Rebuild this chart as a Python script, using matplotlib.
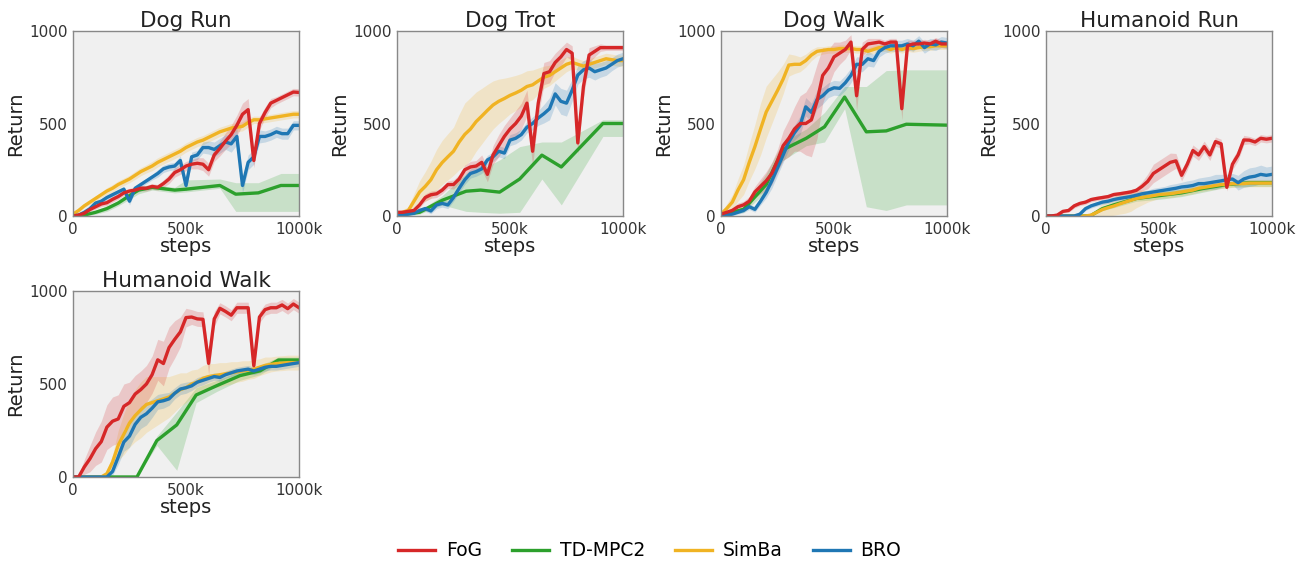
import numpy as np
import matplotlib
matplotlib.use("Agg")
import matplotlib.pyplot as plt

# evaluation grid (thousands of env steps) shared by FoG / SimBa / BRO curves
steps_k = list(range(0, 1001, 25))

methods = ["FoG", "TD-MPC2", "SimBa", "BRO"]
colors = {"FoG": "#d62728", "TD-MPC2": "#2ca02c", "SimBa": "#f0b323", "BRO": "#1f77b4"}

# ---- Dog Run ----
dog_run_fog = [0, 5, 15, 35, 50, 65, 72, 90, 105, 125, 135, 140, 150, 150, 160, 155, 175, 200, 235, 250, 270,
               280, 285, 280, 250, 330, 365, 405, 440, 490, 550, 575, 300, 500, 560, 610, 625, 640, 655, 670, 668]
dog_run_fog_sd = [2, 5, 8, 10, 12, 14, 15, 15, 15, 15, 15, 15, 15, 15, 15, 15, 20, 25, 25, 25, 25,
                  25, 30, 35, 35, 35, 40, 45, 50, 55, 60, 60, 40, 35, 30, 25, 20, 20, 20, 20, 20]
dog_run_bro = [0, 5, 20, 40, 70, 80, 100, 115, 130, 145, 80, 150, 170, 190, 210, 230, 255, 265, 270, 300, 165,
               320, 330, 370, 370, 360, 380, 400, 390, 430, 165, 290, 320, 430, 430, 440, 455, 445, 445, 490, 490]
dog_run_bro_sd = [2, 5, 8, 10, 12, 14, 15, 15, 15, 15, 20, 15, 15, 15, 15, 20, 20, 20, 20, 25, 30,
                  25, 25, 30, 35, 40, 40, 40, 45, 45, 40, 40, 40, 35, 30, 30, 30, 30, 30, 25, 25]
dog_run_simba = [10, 30, 55, 75, 95, 115, 135, 150, 170, 185, 200, 220, 240, 255, 270, 290, 305, 320, 335, 350, 370,
                 385, 400, 410, 425, 440, 455, 465, 475, 480, 485, 505, 520, 520, 525, 530, 535, 540, 545, 550, 550]
dog_run_simba_sd = [5, 8, 10, 12, 15, 15, 18, 20, 20, 20, 20, 22, 22, 22, 25, 25, 25, 25, 25, 25, 25,
                    25, 25, 25, 25, 25, 25, 25, 25, 25, 25, 25, 20, 20, 20, 20, 20, 20, 20, 20, 20]
dog_run_td_x = [0, 50, 100, 150, 200, 250, 290, 350, 450, 500, 650, 720, 820, 920, 1000]
dog_run_td = [0, 5, 20, 40, 70, 110, 140, 155, 140, 145, 165, 118, 125, 165, 165]
dog_run_td_lo = [0, 0, 10, 25, 55, 90, 120, 140, 125, 130, 150, 25, 25, 25, 25]
dog_run_td_hi = [0, 10, 30, 55, 85, 130, 160, 170, 155, 195, 200, 180, 180, 230, 230]

# ---- Dog Trot ----
dog_trot_fog = [20, 20, 25, 30, 60, 100, 115, 120, 140, 170, 170, 200, 250, 265, 270, 290, 225, 330, 380, 430, 470,
                500, 540, 610, 350, 610, 770, 780, 830, 860, 900, 880, 395, 700, 870, 890, 910, 910, 910, 910, 910]
dog_trot_fog_sd = [10, 10, 10, 10, 15, 20, 20, 20, 20, 20, 25, 25, 25, 30, 30, 40, 40, 50, 60, 60, 60,
                   70, 70, 70, 80, 70, 60, 60, 50, 50, 40, 40, 60, 60, 40, 30, 20, 15, 15, 15, 15]
dog_trot_bro = [5, 5, 10, 15, 30, 40, 27, 60, 68, 60, 100, 150, 196, 230, 240, 255, 303, 320, 350, 340, 410,
                420, 440, 480, 500, 530, 553, 580, 660, 620, 610, 680, 762, 790, 800, 780, 790, 800, 820, 840, 850]
dog_trot_bro_sd = [5, 5, 8, 10, 12, 15, 15, 20, 20, 20, 20, 25, 25, 25, 25, 25, 25, 25, 30, 30, 30,
                   30, 30, 30, 35, 40, 50, 60, 60, 70, 70, 60, 50, 50, 50, 45, 40, 40, 35, 35, 35]
dog_trot_simba = [10, 20, 30, 80, 130, 160, 196, 250, 289, 320, 350, 400, 441, 470, 510, 540, 571, 600, 620, 635, 652,
                  665, 680, 700, 709, 730, 750, 760, 780, 800, 820, 830, 820, 810, 820, 830, 840, 850, 845, 840, 840]
dog_trot_simba_sd = [10, 15, 20, 40, 60, 80, 100, 110, 120, 125, 130, 150, 170, 170, 160, 150, 140, 130, 120, 110, 100,
                     95, 90, 85, 80, 70, 60, 55, 50, 45, 40, 35, 30, 30, 30, 30, 30, 30, 30, 30, 30]
dog_trot_td_x = [0, 100, 200, 306, 370, 454, 543, 641, 727, 911, 1000]
dog_trot_td = [5, 20, 85, 134, 140, 129, 200, 329, 265, 500, 500]
dog_trot_td_lo = [0, 10, 60, 25, 20, 15, 20, 200, 60, 430, 430]
dog_trot_td_hi = [10, 30, 110, 230, 250, 303, 375, 400, 400, 520, 520]

# ---- Dog Walk ----
dog_walk_fog = [10, 20, 30, 50, 60, 80, 130, 160, 190, 230, 300, 380, 420, 470, 500, 500, 520, 620, 760, 800, 860,
                880, 900, 940, 650, 900, 930, 935, 940, 930, 940, 940, 580, 920, 930, 930, 935, 930, 945, 930, 930]
dog_walk_fog_sd = [10, 10, 15, 20, 20, 25, 30, 40, 50, 60, 60, 80, 100, 120, 150, 170, 200, 200, 150, 100, 80,
                   60, 50, 40, 80, 40, 30, 25, 20, 20, 20, 20, 60, 30, 20, 20, 20, 20, 20, 20, 20]
dog_walk_bro = [5, 5, 10, 20, 30, 50, 36, 80, 128, 190, 260, 330, 400, 450, 490, 590, 560, 630, 650, 680, 693,
                690, 720, 760, 820, 820, 850, 840, 890, 910, 920, 920, 920, 930, 920, 945, 910, 930, 925, 940, 935]
dog_walk_bro_sd = [5, 5, 8, 10, 12, 15, 15, 20, 30, 40, 40, 40, 40, 40, 50, 50, 50, 50, 45, 40, 40,
                   40, 40, 40, 40, 40, 40, 35, 30, 30, 30, 30, 30, 30, 30, 30, 30, 30, 30, 30, 30]
dog_walk_simba = [10, 40, 75, 140, 196, 290, 375, 470, 562, 620, 678, 740, 816, 820, 820, 840, 870, 890, 895, 900, 900,
                  905, 905, 905, 900, 900, 890, 900, 910, 910, 900, 910, 900, 910, 905, 910, 915, 915, 920, 920, 920]
dog_walk_simba_sd = [10, 25, 40, 60, 80, 100, 120, 140, 140, 120, 100, 80, 60, 50, 40, 35, 30, 25, 20, 20, 20,
                     20, 20, 20, 20, 20, 20, 20, 20, 20, 20, 20, 20, 20, 20, 20, 20, 20, 20, 20, 20]
dog_walk_td_x = [0, 100, 200, 273, 377, 458, 547, 643, 731, 820, 1000]
dog_walk_td = [5, 36, 170, 357, 420, 482, 643, 455, 460, 496, 491]
dog_walk_td_lo = [0, 20, 130, 300, 380, 400, 580, 50, 30, 60, 60]
dog_walk_td_hi = [10, 50, 230, 400, 470, 560, 700, 700, 786, 790, 790]

# ---- Humanoid Run ----
hum_run_fog = [0, 0, 5, 25, 30, 55, 68, 75, 89, 95, 100, 105, 116, 120, 125, 130, 139, 160, 187, 230, 250,
               270, 290, 298, 220, 280, 354, 330, 375, 330, 402, 390, 155, 280, 330, 411, 410, 400, 420, 415, 420]
hum_run_fog_sd = [0, 0, 5, 8, 10, 12, 12, 12, 12, 12, 12, 12, 12, 12, 12, 12, 15, 25, 40, 50, 50,
                  50, 50, 40, 30, 30, 30, 30, 30, 30, 25, 25, 20, 30, 30, 25, 20, 20, 20, 20, 20]
hum_run_bro = [0, 0, 0, 0, 0, 0, 10, 40, 55, 65, 75, 80, 89, 95, 100, 105, 112, 120, 125, 130, 135,
               140, 145, 150, 157, 160, 165, 175, 175, 180, 185, 190, 196, 200, 180, 200, 210, 215, 225, 220, 225]
hum_run_bro_sd = [0, 0, 0, 0, 0, 0, 5, 10, 12, 12, 12, 12, 12, 12, 12, 15, 15, 15, 15, 20, 20,
                  20, 25, 25, 25, 30, 30, 30, 35, 35, 40, 35, 30, 30, 40, 45, 50, 50, 50, 45, 45]
hum_run_simba = [0, 0, 0, 0, 0, 0, 0, 0, 5, 20, 35, 45, 54, 65, 75, 85, 95, 100, 105, 110, 116,
                 118, 120, 125, 130, 135, 140, 150, 155, 160, 165, 170, 170, 175, 175, 175, 178, 178, 178, 178, 178]
hum_run_simba_sd = [0, 0, 0, 0, 0, 0, 0, 0, 5, 20, 35, 45, 50, 55, 60, 60, 50, 40, 30, 25, 20,
                    20, 20, 20, 20, 20, 20, 20, 20, 20, 20, 20, 20, 20, 20, 20, 20, 20, 20, 20, 20]
hum_run_td_x = [0, 195, 250, 300, 400, 500, 600, 700, 800, 900, 1000]
hum_run_td = [0, 0, 40, 60, 95, 110, 125, 150, 170, 180, 180]
hum_run_td_lo = [0, 0, 30, 45, 80, 90, 105, 130, 155, 160, 160]
hum_run_td_hi = [0, 0, 50, 75, 110, 130, 145, 165, 185, 195, 195]

# ---- Humanoid Walk ----
hum_walk_fog = [0, 0, 54, 98, 152, 190, 268, 300, 312, 380, 400, 446, 470, 500, 550, 630, 610, 696, 740, 780, 857,
                860, 850, 848, 611, 850, 907, 890, 870, 910, 910, 910, 598, 860, 900, 910, 910, 925, 905, 930, 910]
hum_walk_fog_sd = [0, 10, 40, 70, 90, 110, 120, 130, 130, 120, 110, 100, 100, 100, 100, 110, 120, 110, 100, 80, 50,
                   40, 40, 40, 60, 40, 30, 30, 30, 30, 30, 30, 40, 30, 30, 30, 30, 30, 30, 30, 30]
hum_walk_bro = [0, 0, 0, 0, 0, 0, 0, 30, 107, 188, 220, 283, 321, 340, 370, 404, 410, 420, 450, 473, 480,
                490, 510, 520, 530, 540, 535, 550, 560, 570, 575, 580, 570, 580, 590, 595, 595, 600, 605, 610, 615]
hum_walk_bro_sd = [0, 0, 0, 0, 0, 0, 0, 20, 40, 50, 60, 60, 60, 60, 50, 40, 40, 35, 30, 30, 30,
                   25, 25, 25, 20, 20, 20, 20, 20, 20, 20, 20, 20, 20, 20, 20, 20, 20, 20, 20, 20]
hum_walk_simba = [0, 0, 0, 0, 0, 0, 18, 80, 170, 230, 290, 330, 361, 390, 400, 410, 420, 430, 450, 470, 480,
                  500, 510, 530, 540, 545, 550, 555, 560, 565, 570, 575, 580, 590, 600, 605, 610, 612, 615, 615, 615]
hum_walk_simba_sd = [0, 0, 0, 0, 0, 0, 15, 40, 80, 110, 130, 140, 150, 150, 140, 130, 120, 110, 100, 90, 80,
                     75, 70, 70, 70, 65, 65, 60, 60, 55, 55, 50, 50, 45, 45, 40, 40, 40, 40, 40, 40]
hum_walk_td_x = [0, 283, 371, 459, 545, 636, 739, 828, 909, 1000]
hum_walk_td = [0, 0, 196, 280, 441, 491, 545, 571, 629, 629]
hum_walk_td_lo = [0, 0, 170, 36, 400, 460, 520, 550, 610, 610]
hum_walk_td_hi = [0, 0, 220, 350, 480, 520, 570, 600, 645, 645]

tasks = [
    ("Dog Run", dog_run_fog, dog_run_fog_sd, dog_run_bro, dog_run_bro_sd, dog_run_simba, dog_run_simba_sd,
     dog_run_td_x, dog_run_td, dog_run_td_lo, dog_run_td_hi),
    ("Dog Trot", dog_trot_fog, dog_trot_fog_sd, dog_trot_bro, dog_trot_bro_sd, dog_trot_simba, dog_trot_simba_sd,
     dog_trot_td_x, dog_trot_td, dog_trot_td_lo, dog_trot_td_hi),
    ("Dog Walk", dog_walk_fog, dog_walk_fog_sd, dog_walk_bro, dog_walk_bro_sd, dog_walk_simba, dog_walk_simba_sd,
     dog_walk_td_x, dog_walk_td, dog_walk_td_lo, dog_walk_td_hi),
    ("Humanoid Run", hum_run_fog, hum_run_fog_sd, hum_run_bro, hum_run_bro_sd, hum_run_simba, hum_run_simba_sd,
     hum_run_td_x, hum_run_td, hum_run_td_lo, hum_run_td_hi),
    ("Humanoid Walk", hum_walk_fog, hum_walk_fog_sd, hum_walk_bro, hum_walk_bro_sd, hum_walk_simba, hum_walk_simba_sd,
     hum_walk_td_x, hum_walk_td, hum_walk_td_lo, hum_walk_td_hi),
]

W, H = 1307, 565
fig = plt.figure(figsize=(W / 100, H / 100), dpi=100)

# axes boxes in pixels: (left, top, bottom)
lefts = [73, 397, 721, 1046]
boxes = [(lefts[0], 31, 216), (lefts[1], 31, 216), (lefts[2], 31, 216), (lefts[3], 31, 216), (lefts[0], 291, 477)]
ax_w = 226

x_grid = np.array(steps_k) * 1000


def band(ax, x, lo, hi, color):
    lo = np.clip(lo, 0, 1000)
    hi = np.clip(hi, 0, 1000)
    ax.fill_between(x, lo, hi, color=color, alpha=0.2, lw=0)


handles = {}
for (name, fog, fog_sd, bro, bro_sd, simba, simba_sd, td_x, td, td_lo, td_hi), (l, t, b) in zip(tasks, boxes):
    ax = fig.add_axes([l / W, 1 - b / H, ax_w / W, (b - t) / H])
    ax.set_facecolor("#f0f0f0")

    td_xs = np.array(td_x) * 1000
    band(ax, td_xs, np.array(td_lo), np.array(td_hi), colors["TD-MPC2"])
    for key, m, sd in [("SimBa", simba, simba_sd), ("BRO", bro, bro_sd), ("FoG", fog, fog_sd)]:
        m = np.array(m)
        sd = np.array(sd)
        band(ax, x_grid, m - sd, m + sd, colors[key])

    handles["TD-MPC2"], = ax.plot(td_xs, td, color=colors["TD-MPC2"], lw=2.4)
    handles["SimBa"], = ax.plot(x_grid, simba, color=colors["SimBa"], lw=2.4)
    handles["BRO"], = ax.plot(x_grid, bro, color=colors["BRO"], lw=2.4)
    handles["FoG"], = ax.plot(x_grid, fog, color=colors["FoG"], lw=2.4)

    ax.set_xlim(0, 1e6)
    ax.set_ylim(0, 1000)
    ax.set_xticks([0, 5e5, 1e6])
    ax.set_xticklabels(["0", "500k", "1000k"])
    ax.set_yticks([0, 500, 1000])
    ax.tick_params(length=0, labelsize=11, colors="#333333", pad=4)
    for s in ax.spines.values():
        s.set_color("#888888")
        s.set_linewidth(1.0)
    ax.set_title(name, fontsize=15.5, color="#222222", pad=3)
    ax.set_xlabel("steps", fontsize=14, color="#222222", labelpad=0)
    ax.set_ylabel("Return", fontsize=14, color="#222222", labelpad=3)

fig.legend([handles[m] for m in methods], methods, loc="center", bbox_to_anchor=(0.497, 0.025),
           ncol=4, frameon=False, fontsize=13.5, handlelength=2.0, columnspacing=1.6, handletextpad=0.55)

fig.savefig("out.png", dpi=100)
